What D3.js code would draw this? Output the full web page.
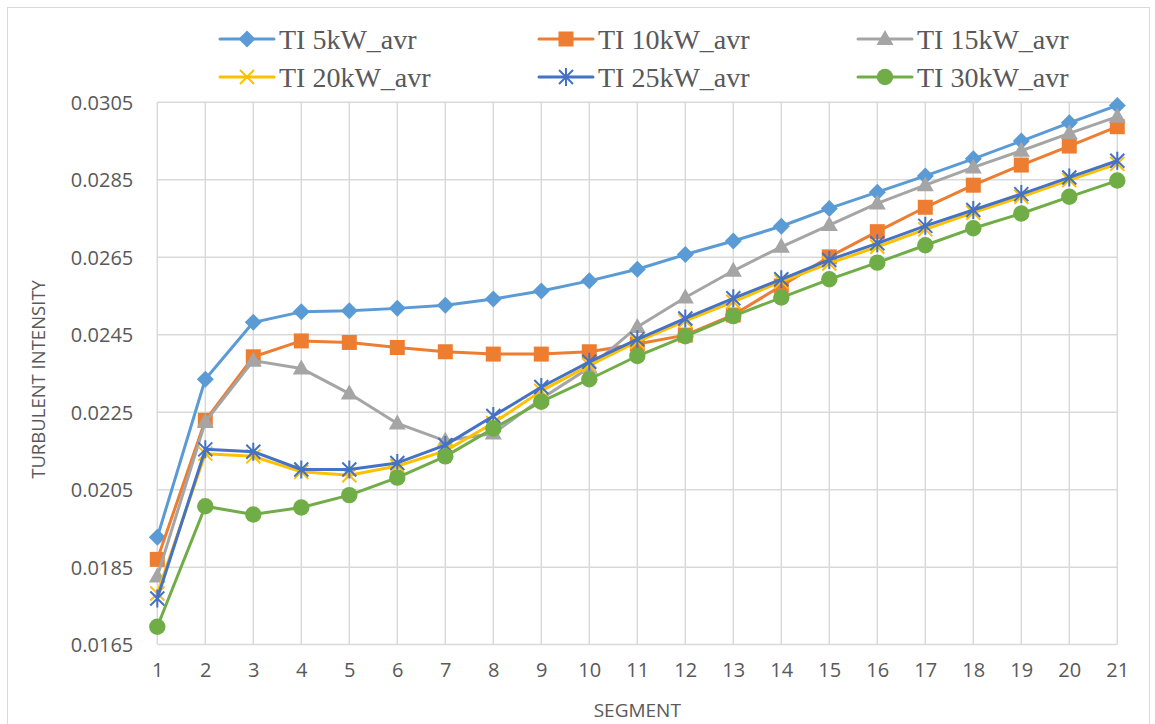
<!DOCTYPE html>
<html>
<head>
<meta charset="utf-8">
<script src="https://cdn.jsdelivr.net/npm/d3@7"></script>
<style>
  html, body { margin: 0; padding: 0; background: #fff; }
  svg { display: block; }
</style>
</head>
<body>
<svg id="chart" width="1155" height="724"></svg>
<script>
// Turbulent intensity per segment, averaged for each power level
const segments = d3.range(1, 22);
const seriesNames = ["TI 5kW_avr", "TI 10kW_avr", "TI 15kW_avr", "TI 20kW_avr", "TI 25kW_avr", "TI 30kW_avr"];
const ti5kW  = [0.01927, 0.02335, 0.02482, 0.02509, 0.02512, 0.02518, 0.02526, 0.02542, 0.02563, 0.02589, 0.02619, 0.02657, 0.02692, 0.02730, 0.02776, 0.02818, 0.02860, 0.02904, 0.02950, 0.02997, 0.03042];
const ti10kW = [0.01870, 0.02229, 0.02393, 0.02434, 0.02430, 0.02417, 0.02406, 0.02400, 0.02400, 0.02406, 0.02426, 0.02449, 0.02501, 0.02576, 0.02651, 0.02716, 0.02779, 0.02836, 0.02888, 0.02937, 0.02987];
const ti15kW = [0.01826, 0.02225, 0.02383, 0.02363, 0.02298, 0.02221, 0.02176, 0.02195, 0.02285, 0.02365, 0.02470, 0.02546, 0.02615, 0.02677, 0.02733, 0.02789, 0.02836, 0.02882, 0.02925, 0.02970, 0.03013];
const ti20kW = [0.01782, 0.02143, 0.02136, 0.02096, 0.02087, 0.02111, 0.02150, 0.02222, 0.02305, 0.02371, 0.02432, 0.02486, 0.02535, 0.02587, 0.02634, 0.02677, 0.02722, 0.02765, 0.02806, 0.02849, 0.02891];
const ti25kW = [0.01769, 0.02154, 0.02148, 0.02102, 0.02102, 0.02119, 0.02165, 0.02240, 0.02315, 0.02380, 0.02438, 0.02492, 0.02544, 0.02593, 0.02643, 0.02686, 0.02731, 0.02772, 0.02813, 0.02856, 0.02899];
const ti30kW = [0.01696, 0.02007, 0.01986, 0.02004, 0.02036, 0.02081, 0.02136, 0.02208, 0.02277, 0.02335, 0.02395, 0.02446, 0.02498, 0.02546, 0.02593, 0.02636, 0.02681, 0.02725, 0.02763, 0.02806, 0.02848];
const yTicks = [0.0165, 0.0185, 0.0205, 0.0225, 0.0245, 0.0265, 0.0285, 0.0305];
const yTickLabels = ["0.0165", "0.0185", "0.0205", "0.0225", "0.0245", "0.0265", "0.0285", "0.0305"];

const colors = ["#5B9BD5", "#ED7D31", "#A5A5A5", "#FFC000", "#4472C4", "#70AD47"];
const markers = ["diamond", "square", "triangle", "x", "star", "circle"];
const seriesValues = [ti5kW, ti10kW, ti15kW, ti20kW, ti25kW, ti30kW];

const svg = d3.select("#chart");

// outer chart frame
svg.append("rect")
  .attr("x", 7.5).attr("y", 7.5).attr("width", 1142).attr("height", 730)
  .attr("fill", "#fff").attr("stroke", "#D9D9D9").attr("stroke-width", 1);

const x = d3.scaleLinear().domain([1, 21]).range([157.3, 1117.3]);
const y = d3.scaleLinear().domain([0.0165, 0.0305]).range([644.6, 102.3]);

const grid = svg.append("g");
// horizontal gridlines
grid.selectAll("line.h").data(yTicks).join("line")
  .attr("x1", x(1)).attr("x2", x(21))
  .attr("y1", d => y(d)).attr("y2", d => y(d))
  .attr("stroke", "#D9D9D9").attr("stroke-width", 1.5);
// vertical gridlines at every segment
grid.selectAll("line.v").data(segments).join("line")
  .attr("x1", d => x(d)).attr("x2", d => x(d))
  .attr("y1", y(0.0305)).attr("y2", y(0.0165))
  .attr("stroke", "#D9D9D9").attr("stroke-width", 1.5);

// y tick labels
const yAxis = d3.axisLeft(y).tickValues(yTicks)
  .tickFormat((d, i) => yTickLabels[i]).tickSize(0).tickPadding(24);
const gy = svg.append("g").attr("transform", `translate(${x(1)},0)`).call(yAxis);
gy.select(".domain").remove();
gy.selectAll("text")
  .attr("fill", "#595959").attr("font-family", "'Open Sans', sans-serif")
  .attr("font-size", "20px").attr("dy", "0.36em");

// x tick labels
const xAxis = d3.axisBottom(x).tickValues(segments).tickFormat(d3.format("d")).tickSize(0).tickPadding(18);
const gx = svg.append("g").attr("transform", `translate(0,${y(0.0165)})`).call(xAxis);
gx.select(".domain").remove();
gx.selectAll("text")
  .attr("fill", "#595959").attr("font-family", "'Open Sans', sans-serif")
  .attr("font-size", "20px");

// axis titles
svg.append("text")
  .attr("x", x(11)).attr("y", 717)
  .attr("text-anchor", "middle")
  .attr("fill", "#595959").attr("font-family", "'Open Sans', sans-serif")
  .attr("font-size", "19px").text("SEGMENT");
svg.append("text")
  .attr("transform", `translate(45,${(y(0.0165) + y(0.0305)) / 2 + 6}) rotate(-90)`)
  .attr("text-anchor", "middle")
  .attr("fill", "#595959").attr("font-family", "'Open Sans', sans-serif")
  .attr("font-size", "18.5px").text("TURBULENT INTENSITY");

// marker shapes centred on the origin
function drawMarker(g, type, color) {
  if (type === "diamond") {
    g.append("path").attr("d", "M0,-8.5L8.5,0L0,8.5L-8.5,0Z").attr("fill", color);
  } else if (type === "square") {
    g.append("path").attr("d", "M-7.5,-7.5H7.5V7.5H-7.5Z").attr("fill", color);
  } else if (type === "triangle") {
    g.append("path").attr("d", "M0,-9L8.5,6L-8.5,6Z").attr("fill", color);
  } else if (type === "circle") {
    g.append("circle").attr("r", 8.2).attr("fill", color);
  } else if (type === "x") {
    g.append("path").attr("d", "M-7,-7L7,7M-7,7L7,-7")
      .attr("stroke", color).attr("stroke-width", 2).attr("fill", "none");
  } else if (type === "star") {
    g.append("path").attr("d", "M-7,-7L7,7M-7,7L7,-7M0,-9V9")
      .attr("stroke", color).attr("stroke-width", 2).attr("fill", "none");
  }
}

const line = d3.line().x((d, i) => x(segments[i])).y(d => y(d));

seriesValues.forEach((vals, si) => {
  const g = svg.append("g");
  g.append("path").datum(vals)
    .attr("d", line)
    .attr("fill", "none")
    .attr("stroke", colors[si])
    .attr("stroke-width", 3)
    .attr("stroke-linejoin", "round");
  g.selectAll("g.m").data(vals).join("g")
    .attr("transform", (d, i) => `translate(${x(segments[i])},${y(d)})`)
    .each(function () { drawMarker(d3.select(this), markers[si], colors[si]); });
});

// legend: three columns, two rows
const legendCols = [220, 539, 858];
const legendRows = [39, 77];
seriesNames.forEach((name, i) => {
  const lx = legendCols[i % 3];
  const ly = legendRows[Math.floor(i / 3)];
  const g = svg.append("g").attr("transform", `translate(${lx},${ly})`);
  g.append("line").attr("x1", 0).attr("x2", 54).attr("y1", 0).attr("y2", 0)
    .attr("stroke", colors[i]).attr("stroke-width", 3).attr("stroke-linecap", "round");
  const mg = g.append("g").attr("transform", "translate(27,0)");
  drawMarker(mg, markers[i], colors[i]);
  g.append("text").attr("x", 59).attr("y", 9.5)
    .attr("fill", "#595959").attr("font-family", "'Liberation Serif', 'Times New Roman', serif")
    .attr("font-size", "28px").text(name);
});
</script>
</body>
</html>
